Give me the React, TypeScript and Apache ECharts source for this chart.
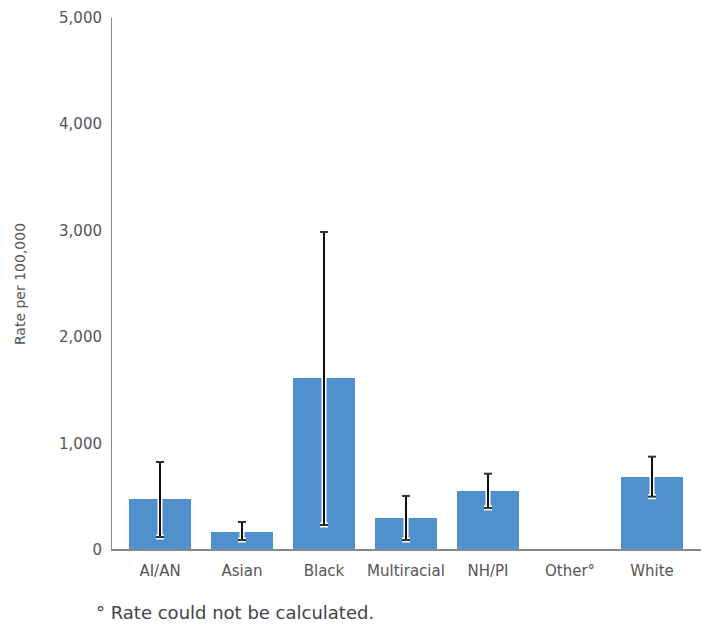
import React, { useEffect, useRef } from "react";
import * as echarts from "echarts";

const categories = ["AI/AN", "Asian", "Black", "Multiracial", "NH/PI", "Other°", "White"];
const rates: (number | null)[] = [480, 169, 1617, 301, 555, null, 686];
const lowerCI: (number | null)[] = [122, 94, 235, 94, 395, null, 501];
const upperCI: (number | null)[] = [827, 263, 2989, 508, 717, null, 877];
const yTicks = { min: 0, max: 5000, interval: 1000 };
const footnote = "° Rate could not be calculated.";
const yTitle = "Rate per 100,000";

const FONT = "'DejaVu Sans', sans-serif";

export default function App() {
  const ref = useRef<HTMLDivElement>(null);
  useEffect(() => {
    if (!ref.current) return;
    const chart = echarts.init(ref.current, undefined, { renderer: "svg" });
    const errData = categories
      .map((c, i) => (lowerCI[i] == null ? null : [i, lowerCI[i], upperCI[i]]))
      .filter((d) => d != null);
    chart.setOption({
      animation: false,
      grid: { left: 119, right: 9, top: 18, bottom: 77 },
      xAxis: {
        type: "category",
        data: categories,
        axisLine: { show: false },
        axisTick: { show: false },
        axisLabel: { color: "#555", fontSize: 15, fontFamily: FONT, margin: 13, interval: 0 },
      },
      yAxis: {
        type: "value",
        min: yTicks.min,
        max: yTicks.max,
        interval: yTicks.interval,
        offset: 8,
        splitLine: { show: false },
        axisLine: { show: true, lineStyle: { color: "#888", width: 1 } },
        axisTick: { show: false },
        axisLabel: {
          color: "#555",
          fontSize: 15,
          fontFamily: FONT,
          margin: 9,
          formatter: (v: number) => v.toLocaleString("en-US"),
        },
        name: yTitle,
        nameLocation: "middle",
        nameGap: 84,
        nameRotate: 90,
        nameTextStyle: { color: "#555", fontSize: 14, fontFamily: FONT },
      },
      graphic: [
        {
          type: "line",
          shape: { x1: 111, y1: 550, x2: 701, y2: 550 },
          style: { stroke: "#888", lineWidth: 2 },
          z: 10,
        },
        {
          type: "text",
          left: 96,
          top: 603,
          style: { text: footnote, fill: "#444", fontSize: 18, fontFamily: FONT },
        },
      ],
      series: [
        {
          type: "bar",
          data: rates,
          barWidth: "75.6%",
          itemStyle: { color: "#4F90CD" },
        },
        {
          type: "custom",
          data: errData,
          z: 5,
          renderItem: (params: any, api: any) => {
            const x = api.value(0);
            const lo = api.coord([x, api.value(1)]);
            const hi = api.coord([x, api.value(2)]);
            const cx = lo[0];
            const cap = 4;
            const mk = (stroke: string, w: number, capStroke: string) => [
              { type: "line", shape: { x1: cx, y1: hi[1], x2: cx, y2: lo[1] }, style: { stroke, lineWidth: w } },
              { type: "line", shape: { x1: cx - cap, y1: hi[1], x2: cx + cap, y2: hi[1] }, style: { stroke: capStroke, lineWidth: w } },
              { type: "line", shape: { x1: cx - cap, y1: lo[1], x2: cx + cap, y2: lo[1] }, style: { stroke: capStroke, lineWidth: w } },
            ];
            return {
              type: "group",
              children: [...mk("#fff", 5, "#fff"), ...mk("#111", 2, "#333")],
            };
          },
        },
      ],
    });
    return () => chart.dispose();
  }, []);
  return <div ref={ref} style={{ position: "absolute", left: 0, top: 0, width: 702, height: 627 }} />;
}
